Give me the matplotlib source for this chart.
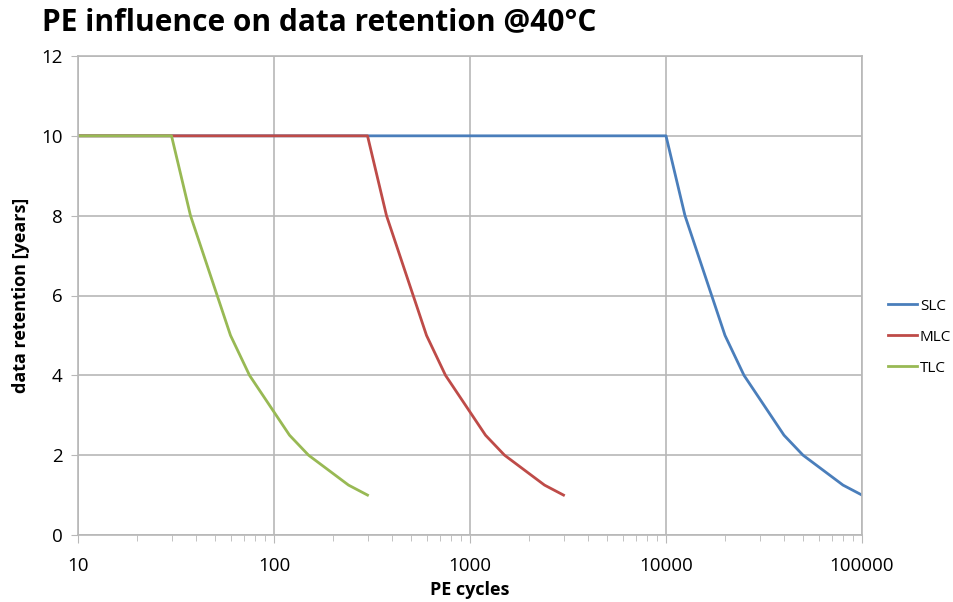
import numpy as np
import matplotlib.pyplot as plt
from matplotlib.ticker import FixedLocator, LogLocator, NullFormatter

# PE cycles vs. retention years, one series per cell type
slc_pe = [10, 10000, 12500, 20000, 25000, 40000, 50000, 80000, 100000]
mlc_pe = [10, 300, 375, 600, 750, 1200, 1500, 2400, 3000]
tlc_pe = [10, 30, 37.5, 60, 75, 120, 150, 240, 300]
retention = [10, 10, 8, 5, 4, 2.5, 2, 1.25, 1]

xticks = [10, 100, 1000, 10000, 100000]
xtick_labels = ['10', '100', '1000', '10000', '100000']
yticks = [0, 2, 4, 6, 8, 10, 12]

plt.rcParams['font.family'] = ['Open Sans', 'DejaVu Sans']

fig = plt.figure(figsize=(9.54, 6.02), dpi=100)
ax = fig.add_axes([78/954, 1 - 535/602, (862-78)/954, (535-56)/602])

ax.plot(slc_pe, retention, color='#4a7ebb', lw=2.0, label='SLC', solid_joinstyle='round')
ax.plot(mlc_pe, retention, color='#be4b48', lw=2.0, label='MLC', solid_joinstyle='round')
ax.plot(tlc_pe, retention, color='#98b954', lw=2.0, label='TLC', solid_joinstyle='round')

ax.set_xscale('log')
ax.set_xlim(10, 100000)
ax.set_ylim(0, 12)
ax.xaxis.set_major_locator(FixedLocator(xticks))
ax.set_xticklabels(xtick_labels)
ax.xaxis.set_minor_locator(LogLocator(base=10, subs=np.arange(2, 10)))
ax.xaxis.set_minor_formatter(NullFormatter())
ax.set_yticks(yticks)

ax.grid(True, which='major', color='#b8b8b8', lw=1.2)
ax.set_axisbelow(True)
for s in ax.spines.values():
    s.set_color('#b8b8b8')
    s.set_linewidth(1.2)

ax.tick_params(axis='x', which='major', length=6, color='#b8b8b8', labelsize=13.5, pad=10)
ax.tick_params(axis='x', which='minor', length=4, color='#b8b8b8')
ax.tick_params(axis='y', length=5, color='#b8b8b8', labelsize=13.5, pad=6)

ax.set_xlabel('PE cycles', fontsize=13, fontweight='bold', labelpad=4)
ax.set_ylabel('data retention [years]', fontsize=13, fontweight='bold', labelpad=8)

fig.text(42/954, 1 - 22/602, 'PE influence on data retention @40°C',
         fontsize=21.5, fontweight='bold', va='center', ha='left')

ax.legend(loc='center left', bbox_to_anchor=(1.033, 0.413), frameon=False,
          borderaxespad=0, borderpad=0,
          fontsize=11, handlelength=1.9, handletextpad=0.2, labelspacing=1.05)

fig.savefig('out.png', dpi=100)
